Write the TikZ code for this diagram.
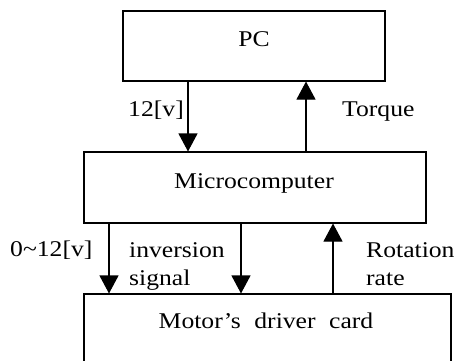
\documentclass[tikz,border=0pt]{standalone}
\usepackage{fontspec}
\setmainfont[FakeStretch=1.14]{Liberation Serif}
\usetikzlibrary{arrows.meta}
\begin{document}
\begin{tikzpicture}[x=1pt,y=-1pt,
  box/.style={draw, line width=1.1pt, rectangle, inner sep=0pt},
  lbl/.style={inner sep=0pt, font=\fontsize{22.5}{26}\selectfont},
  arr/.style={line width=1.1pt, -{Triangle[width=19pt,length=18pt]}}]
\useasboundingbox (0,0) rectangle (458,360);
\clip (0,0) rectangle (458,360);
\node[box, minimum width=262pt, minimum height=70pt] (pc) at (254,46) {};
\node[box, minimum width=342pt, minimum height=71pt] (mc) at (255,187.5) {};
\node[box, minimum width=367pt, minimum height=80pt] (md) at (267.5,334) {};
\node[lbl, anchor=base] (pct) at (254,46) {PC};
\node[lbl, anchor=base] (mct) at (254,188) {Microcomputer};
\node[lbl, anchor=base] (mdt) at (266,328) {Motor’s\hspace{0.6em}driver\hspace{0.6em}card};
\coordinate (xa) at (188,0);
\coordinate (xb) at (306,0);
\coordinate (xc) at (109,0);
\coordinate (xd) at (241,0);
\coordinate (xe) at (333,0);
\draw[arr] (pc.south -| xa) -- (mc.north -| xa);
\draw[arr] (mc.north -| xb) -- (pc.south -| xb);
\draw[arr] (mc.south -| xc) -- (md.north -| xc);
\draw[arr] (mc.south -| xd) -- (md.north -| xd);
\draw[arr] (md.north -| xe) -- (mc.south -| xe);
\node[lbl, anchor=base east] (l1) at (184,116) {12[v]};
\node[lbl, anchor=base west] (l2) at (342,116) {Torque};
\node[lbl, anchor=base west] (l3) at (10,256) {0\textasciitilde12[v]};
\node[lbl, anchor=base west] (l4) at (129,257) {inversion};
\node[lbl, anchor=base west] (l5) at (129,285) {signal};
\node[lbl, anchor=base west] (l6) at (366,257) {Rotation};
\node[lbl, anchor=base west] (l7) at (366,285) {rate};
\end{tikzpicture}
\end{document}
